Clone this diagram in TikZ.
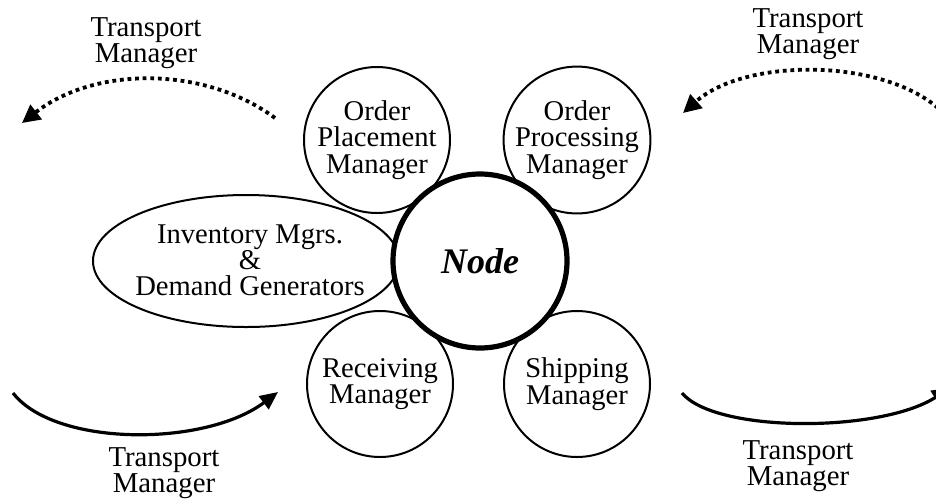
\documentclass[tikz,border=0pt]{standalone}
\usepackage{fontspec}
\setmainfont{Liberation Serif}
\usetikzlibrary{shapes.geometric,arrows.meta}
\begin{document}
\begin{tikzpicture}[x=0.5pt,y=-0.5pt,
  lbl/.style={align=center,font=\fontsize{14.4pt}{13.2pt}\selectfont,inner sep=0pt},
  mgr/.style={circle,draw,line width=1pt,fill=white,minimum size=73pt,inner sep=0pt,align=center,font=\fontsize{14.3pt}{13.2pt}\selectfont},
  hub/.style={circle,draw,line width=2.6pt,fill=white,minimum size=87pt,inner sep=0pt,font=\fontsize{18pt}{18pt}\selectfont\bfseries\itshape},
  inv/.style={ellipse,draw,line width=1pt,fill=white,minimum width=153pt,minimum height=66pt,inner sep=0pt},
  dotarrow/.style={line width=1.9pt,dash pattern=on 1.9pt off 1.9pt,-{Triangle[length=9pt,width=9pt]}},
  solidarrow/.style={line width=1.6pt,-{Triangle[length=9pt,width=8pt]}}]
\useasboundingbox (0,0) rectangle (936,499);
% inventory ellipse
\node[inv] (inv) at (246,261) {};
\node[lbl,font=\fontsize{14.3pt}{13pt}\selectfont] (invtext) at (250,260) {Inventory Mgrs.\\\&\\Demand Generators};
% managers
\node[mgr] (place) at (377,140) {Order\\Placement\\Manager};
\node[mgr] (proc) at (577,140) {Order\\Processing\\Manager};
\node[mgr] (recv) at (380,384) {Receiving\\Manager};
\node[mgr] (ship) at (577,384) {Shipping\\Manager};
% central node
\node[hub] (hub) at (480,261) {Node};
% transport labels
\node[lbl] (tTL) at (146,43) {Transport\\Manager};
\node[lbl] (tTR) at (808,34) {Transport\\Manager};
\node[lbl] (tBL) at (164,473) {Transport\\Manager};
\node[lbl] (tBR) at (798,466) {Transport\\Manager};
% arrow end points
\coordinate (tlS) at (275,118);
\coordinate (tlE) at (22,123);
\coordinate (trS) at (938,108);
\coordinate (trE) at (683,113);
\coordinate (blS) at (13,393);
\coordinate (blE) at (278,392);
\coordinate (brS) at (682,393);
\coordinate (brE) at (950,388);
% arrows
\draw[dotarrow] (tlS) .. controls (205,66) and (95,66) .. (tlE);
\draw[dotarrow] (trS) .. controls (880,58) and (745,58) .. (trE);
\draw[solidarrow] (blS) .. controls (55,447) and (205,447) .. (blE);
\draw[solidarrow] (brS) .. controls (715,433) and (880,433) .. (brE);
\end{tikzpicture}
\end{document}
